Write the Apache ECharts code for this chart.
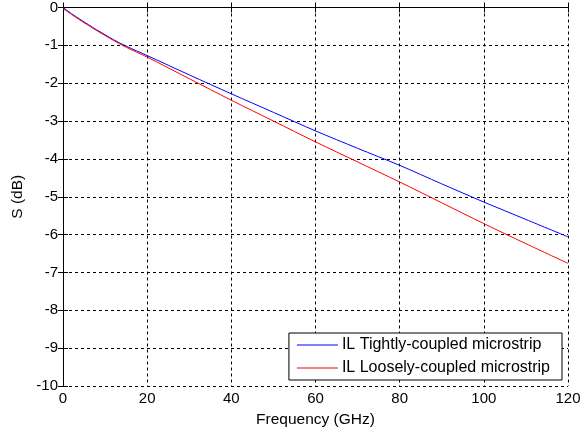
<!DOCTYPE html>
<html>
<head>
<meta charset="utf-8">
<script src="https://cdn.jsdelivr.net/npm/echarts@6/dist/echarts.min.js"></script>
<style>
html, body { margin: 0; padding: 0; background: #fff; }
#chart { width: 587px; height: 435px; }
</style>
</head>
<body>
<div id="chart"></div>
<script>
// frequency points (GHz)
var freq = [0, 2, 4, 6, 8, 10, 12, 15, 20, 30, 40, 50, 60, 70, 80, 90, 100, 110, 120];
// insertion loss, dB
var ilTight = [0, -0.16, -0.31, -0.45, -0.59, -0.72, -0.85, -1.02, -1.27, -1.78, -2.28, -2.77, -3.26, -3.72, -4.17, -4.66, -5.14, -5.60, -6.06];
var ilLoose = [-0.03, -0.18, -0.33, -0.47, -0.61, -0.74, -0.87, -1.05, -1.31, -1.88, -2.45, -3.00, -3.55, -4.08, -4.61, -5.16, -5.71, -6.24, -6.76];
var names = ['IL Tightly-coupled microstrip', 'IL Loosely-coupled microstrip'];

function pairs(xs, ys) {
    return xs.map(function (x, i) { return [x, ys[i]]; });
}

(function () {
    var myChart = echarts.init(document.getElementById('chart'));
    var font = 'Liberation Sans, Arial, sans-serif';
    var dashed = { show: true, lineStyle: { color: '#000', type: [3, 3], width: 1 } };

    var option = {
        animation: false,
        textStyle: { fontFamily: font },
        grid: { left: 63, right: 19, top: 7, bottom: 49 },
        legend: {
            orient: 'vertical',
            right: 25,
            bottom: 55,
            padding: [4, 12, 4, 8],
            itemGap: 7,
            itemWidth: 41,
            itemHeight: 1,
            icon: 'rect',
            backgroundColor: '#fff',
            borderColor: '#000',
            borderWidth: 1,
            borderRadius: 0,
            textStyle: { color: '#000', fontSize: 16, fontFamily: font, padding: [0, 0, 0, -1] },
            data: names
        },
        xAxis: [{
            type: 'value',
            min: 0, max: 120, interval: 20,
            name: 'Frequency (GHz)',
            nameLocation: 'middle',
            nameGap: 26,
            nameTextStyle: { color: '#000', fontSize: 15.5, fontFamily: font },
            axisLine: { lineStyle: { color: '#000', width: 1 } },
            axisTick: { inside: true, length: 5, lineStyle: { color: '#000' } },
            axisLabel: { color: '#000', fontSize: 15, margin: 5 },
            splitLine: dashed
        }, {
            type: 'value',
            position: 'top',
            min: 0, max: 120, interval: 20,
            axisLine: { show: true, lineStyle: { color: '#000', width: 1 } },
            axisTick: { inside: true, length: 5, lineStyle: { color: '#000' } },
            axisLabel: { show: false },
            splitLine: { show: false }
        }],
        yAxis: [{
            type: 'value',
            min: -10, max: 0, interval: 1,
            name: 'S (dB)',
            nameLocation: 'middle',
            nameGap: 36,
            nameTextStyle: { color: '#000', fontSize: 15.5, fontFamily: font },
            axisLine: { show: true, lineStyle: { color: '#000', width: 1 } },
            axisTick: { show: true, inside: true, length: 5, lineStyle: { color: '#000' } },
            axisLabel: { color: '#000', fontSize: 15, margin: 5 },
            splitLine: dashed
        }, {
            type: 'value',
            position: 'right',
            min: -10, max: 0, interval: 1,
            axisLine: { show: true, lineStyle: { color: '#000', width: 1 } },
            axisTick: { show: true, inside: true, length: 5, lineStyle: { color: '#000' } },
            axisLabel: { show: false },
            splitLine: { show: false }
        }],
        series: [
            {
                name: names[0],
                type: 'line',
                showSymbol: false,
                smooth: 0.3,
                color: '#0000ff',
                lineStyle: { width: 1, color: '#0000ff' },
                data: pairs(freq, ilTight)
            },
            {
                name: names[1],
                type: 'line',
                showSymbol: false,
                smooth: 0.3,
                color: '#ff0000',
                lineStyle: { width: 1, color: '#ff0000' },
                data: pairs(freq, ilLoose)
            }
        ]
    };
    myChart.setOption(option);
    window.addEventListener('resize', function () {
        myChart.resize();
    });
})();
</script>
</body>
</html>
